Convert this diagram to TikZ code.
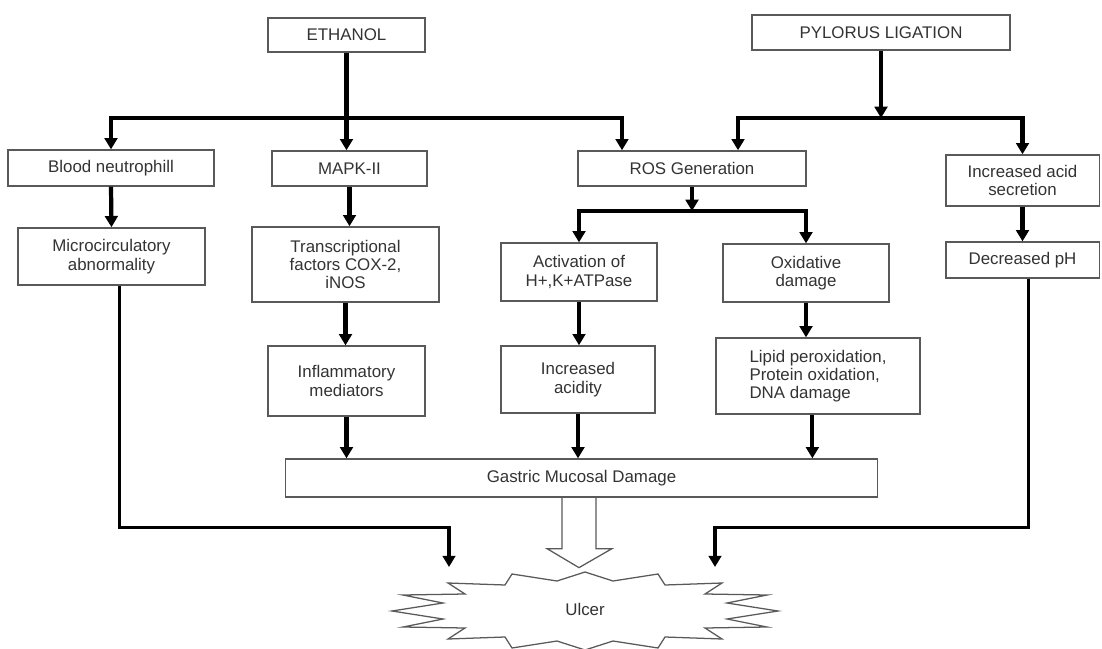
\documentclass[tikz,border=0pt]{standalone}
\usepackage{fontspec}
\setmainfont{Liberation Sans}
\usetikzlibrary{arrows.meta, calc}
\colorlet{boxline}{black!65}
\colorlet{boxtext}{black!80}

\begin{document}
\begin{tikzpicture}[x=0.025cm, y=-0.025cm, >={Triangle[width=9pt,length=8pt]},
    box/.style={draw=boxline, line width=0.9pt, text=boxtext, inner sep=2pt, align=center, font=\fontsize{12}{13}\selectfont},
    fat/.style={->, line width=3pt},
    lean/.style={->, line width=2.2pt},
    outline/.style={draw=boxline, line width=0.9pt, line join=miter}]
    \useasboundingbox (0,0) rectangle (1102,649);

    \node[box, minimum width=3.93cm, minimum height=0.85cm] (ethanol) at (346.5,35) {ETHANOL};
    \node[box, minimum width=6.45cm, minimum height=0.88cm] (pylorus) at (881,32.5) {PYLORUS LIGATION};

    \node[box, minimum width=5.15cm, minimum height=0.9cm] (blood) at (111,168) {Blood neutrophill};
    \node[box, minimum width=3.88cm, minimum height=0.88cm] (mapk) at (349.5,168.5) {MAPK-II};
    \node[box, minimum width=5.7cm, minimum height=0.88cm] (ros) at (692,168.5) {ROS Generation};
    \node[box, minimum width=3.83cm, minimum height=1.28cm] (acid) at (1022.5,180.5) {Increased acid\\secretion};

    \node[box, minimum width=4.68cm, minimum height=1.43cm] (micro) at (111.5,256.5) {Microcirculatory\\abnormality};
    \node[box, minimum width=4.68cm, minimum height=1.88cm] (trans) at (345.5,264.5) {Transcriptional\\factors COX-2,\\iNOS};
    \node[box, minimum width=3.9cm, minimum height=1.45cm] (atpase) at (579,272) {Activation of\\H+,K+ATPase};
    \node[box, minimum width=4.15cm, minimum height=1.45cm] (oxid) at (806,273) {Oxidative\\damage};
    \node[box, minimum width=3.83cm, minimum height=0.9cm] (ph) at (1022.5,260) {Decreased pH};

    \node[box, minimum width=3.93cm, minimum height=1.75cm] (inflam) at (346.5,381) {Inflammatory\\mediators};
    \node[box, minimum width=3.85cm, minimum height=1.68cm] (acidity) at (578,379.5) {Increased\\acidity};
    \node[box, align=left, minimum width=5.1cm, minimum height=1.9cm] (lipid) at (818,376) {Lipid peroxidation,\\Protein oxidation,\\DNA damage};

    \node[box, minimum width=14.78cm, minimum height=0.95cm] (gastric) at (581.5,478) {Gastric Mucosal Damage};
    \node[text=boxtext, font=\fontsize{12}{13}\selectfont] (ulcer) at (585,609) {Ulcer};

    \coordinate (ej) at (346.5,118);
    \coordinate (pj) at (881,118);
    \coordinate (rj) at (692,211);
    \coordinate (uleft) at (449,567);
    \coordinate (uright) at (715,567);

    \draw[fat] (ethanol.south) -- (ethanol.south |- mapk.north);
    \draw[fat] (ej) -| (blood.north);
    \draw[fat] (ej) -| ([xshift=-1.75cm]ros.north);

    \draw[fat] (pylorus.south) -- (pj);
    \draw[fat] (pj) -| ([xshift=1.15cm]ros.north);
    \draw[fat] (pj) -| (acid.north);

    \draw[fat] (ros.south) -- (rj);
    \draw[fat] (rj) -| (atpase.north);
    \draw[fat] (rj) -| (oxid.north);

    \draw[fat] (blood.south) -- (micro.north);
    \draw[fat] (mapk.south) -- (mapk.south |- trans.north);
    \draw[fat] (trans.south) -- (trans.south |- inflam.north);
    \draw[fat] (atpase.south) -- (atpase.south |- acidity.north);
    \draw[fat] (oxid.south) -- (oxid.south |- lipid.north);
    \draw[fat] (acid.south) -- (ph.north);

    \draw[fat] (inflam.south) -- (inflam.south |- gastric.north);
    \draw[fat] (acidity.south) -- (acidity.south |- gastric.north);
    \draw[fat] ([xshift=-4pt]lipid.south) -- ([xshift=-4pt]lipid.south |- gastric.north);

    \draw[lean] ([xshift=6pt]micro.south) -- ++(0,242) -| (uleft);
    \draw[lean] ([xshift=4pt]ph.south) -- ++(0,249) -| (uright);

    \draw[outline] ($(gastric.south)+(-19.5,0)$) -- ++(0,51) -- ++(-15,0) -- ++(32,19)
        -- ++(33,-19) -- ++(-16,0) -- ++(0,-51);

    \draw[outline] (585,572) -- (613,581) -- (658,574) -- (665,585) -- (722,583) -- (705,594)
        -- (767,595) -- (727,603) -- (778,611) -- (727,619) -- (767,627) -- (705,628)
        -- (722,639) -- (665,637) -- (658,648) -- (613,641) -- (585,650)
        -- (557,641) -- (512,648) -- (505,637) -- (448,639) -- (465,628) -- (403,627)
        -- (443,619) -- (392,611) -- (443,603) -- (403,595) -- (465,594) -- (448,583)
        -- (505,585) -- (512,574) -- (557,581) -- cycle;
  \end{tikzpicture}
\end{document}
